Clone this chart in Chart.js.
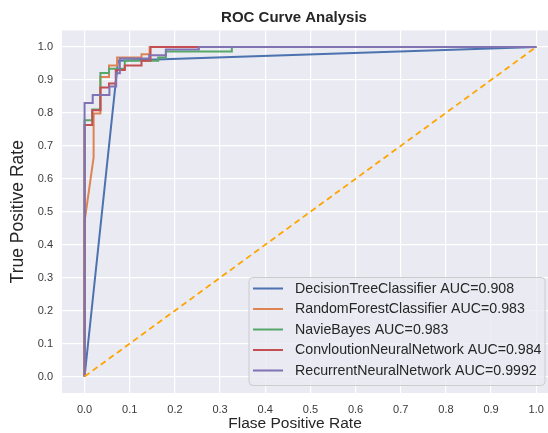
<!DOCTYPE html>
<html>
<head>
<meta charset="utf-8">
<script src="https://cdn.jsdelivr.net/npm/chart.js@4.4.1/dist/chart.umd.min.js"></script>
<style>
  html, body { margin: 0; padding: 0; background: #fff; }
</style>
</head>
<body>
<canvas id="rocChart" width="548" height="433"></canvas>
<script>
// tick values
const axisTicks = [0, 0.1, 0.2, 0.3, 0.4, 0.5, 0.6, 0.7, 0.8, 0.9, 1.0];

// ROC points (fpr / tpr)
const dtFpr = [0, 0.074, 1];
const dtTpr = [0, 0.958, 1];

const rfFpr = [0, 0, 0.02, 0.02, 0.035, 0.035, 0.054, 0.054, 0.072, 0.072, 0.126, 0.126, 0.144, 0.144, 1];
const rfTpr = [0, 0.47, 0.665, 0.798, 0.798, 0.909, 0.909, 0.944, 0.944, 0.968, 0.968, 0.978, 0.978, 1, 1];

const nbFpr = [0, 0, 0.017, 0.017, 0.035, 0.035, 0.054, 0.054, 0.089, 0.089, 0.163, 0.163, 0.18, 0.18, 0.326, 0.326, 1];
const nbTpr = [0, 0.778, 0.778, 0.81, 0.81, 0.921, 0.921, 0.934, 0.934, 0.958, 0.958, 0.968, 0.968, 0.986, 0.986, 1, 1];

const cnnFpr = [0, 0, 0.017, 0.017, 0.035, 0.035, 0.054, 0.054, 0.069, 0.069, 0.089, 0.089, 0.126, 0.126, 0.146, 0.146, 1];
const cnnTpr = [0, 0.763, 0.763, 0.808, 0.808, 0.877, 0.877, 0.889, 0.889, 0.93, 0.93, 0.944, 0.944, 0.958, 0.958, 1, 1];

const rnnFpr = [0, 0, 0.018, 0.018, 0.055, 0.055, 0.07, 0.07, 0.078, 0.078, 0.143, 0.143, 0.18, 0.18, 0.253, 0.253, 1];
const rnnTpr = [0, 0.83, 0.83, 0.854, 0.854, 0.88, 0.88, 0.92, 0.92, 0.965, 0.965, 0.975, 0.975, 0.992, 0.992, 1, 1];

const chanceFpr = [0, 1];
const chanceTpr = [0, 1];

const seriesNames = [
  'DecisionTreeClassifier AUC=0.908',
  'RandomForestClassifier AUC=0.983',
  'NavieBayes AUC=0.983',
  'ConvloutionNeuralNetwork AUC=0.984',
  'RecurrentNeuralNetwork AUC=0.9992'
];
const seriesColors = ['#4C72B0', '#DD8452', '#55A868', '#C44E52', '#8172B3'];

function pts(xs, ys) {
  return xs.map((x, i) => ({ x: x, y: ys[i] }));
}

const FONT = '"Liberation Sans", Arial, sans-serif';

// plot background like seaborn darkgrid
const bgPlugin = {
  id: 'bg',
  beforeDraw(chart) {
    const { ctx, chartArea: a } = chart;
    ctx.save();
    ctx.fillStyle = '#ffffff';
    ctx.fillRect(0, 0, chart.width, chart.height);
    ctx.fillStyle = '#EAEAF2';
    ctx.fillRect(a.left, a.top, a.right - a.left, a.bottom - a.top);
    ctx.restore();
  },
  afterLayout(chart) {
    // titles sit a bit left of the axes centre in the picture
    if (chart.titleBlock) {
      chart.titleBlock.left = 40;
      chart.titleBlock.right = 548;
    }
    const xs = chart.scales.x;
    if (!xs._titleWrapped) {
      const orig = xs.drawTitle;
      xs.drawTitle = function () {
        const l = this.left, r = this.right;
        this.left = 42; this.right = 548;
        orig.call(this);
        this.left = l; this.right = r;
      };
      xs._titleWrapped = true;
    }
  }
};

// legend box in the lower right of the axes
const legendPlugin = {
  id: 'boxLegend',
  afterDatasetsDraw(chart) {
    const ctx = chart.ctx;
    const bx = 249, by = 277.5, bw = 296, bh = 108;
    ctx.save();
    ctx.beginPath();
    ctx.roundRect(bx, by, bw, bh, 4);
    ctx.fillStyle = 'rgba(234,234,242,0.8)';
    ctx.fill();
    ctx.strokeStyle = '#cccccc';
    ctx.lineWidth = 1;
    ctx.stroke();
    ctx.font = '14.2px ' + FONT;
    ctx.textBaseline = 'middle';
    seriesNames.forEach((name, i) => {
      const y = 288.5 + i * 20.5;
      ctx.strokeStyle = seriesColors[i];
      ctx.lineWidth = 2;
      ctx.beginPath();
      ctx.moveTo(253, y);
      ctx.lineTo(283, y);
      ctx.stroke();
      ctx.fillStyle = '#262626';
      ctx.fillText(name, 295, y + 0.5);
    });
    ctx.restore();
  }
};

const curves = [
  pts(dtFpr, dtTpr),
  pts(rfFpr, rfTpr),
  pts(nbFpr, nbTpr),
  pts(cnnFpr, cnnTpr),
  pts(rnnFpr, rnnTpr)
];

const datasets = curves.map((d, i) => ({
  label: seriesNames[i],
  data: d,
  showLine: true,
  borderColor: seriesColors[i],
  backgroundColor: seriesColors[i],
  borderWidth: 2,
  pointRadius: 0,
  fill: false,
  order: 5 - i
}));
datasets.push({
  label: 'chance',
  data: pts(chanceFpr, chanceTpr),
  showLine: true,
  borderColor: '#FFA500',
  borderWidth: 1.8,
  borderDash: [6, 4],
  pointRadius: 0,
  fill: false,
  order: 0
});

const ctx1 = document.getElementById('rocChart');
const rocChart = new Chart(ctx1, {
  type: 'scatter',
  data: { datasets: datasets },
  options: {
    responsive: false,
    devicePixelRatio: 1,
    animation: false,
    layout: { padding: 0 },
    plugins: {
      legend: { display: false },
      tooltip: { enabled: false },
      title: {
        display: true,
        text: 'ROC Curve Analysis',
        color: '#262626',
        font: { family: FONT, size: 15, weight: 'bold' },
        padding: { top: 9, bottom: 3.5 }
      }
    },
    scales: {
      x: {
        type: 'linear',
        min: -0.05,
        max: 1.026,
        afterBuildTicks: (scale) => { scale.ticks = axisTicks.map(v => ({ value: v })); },
        afterFit: (scale) => {
          scale.height = 40;
          scale.paddingLeft = 0;
          scale.paddingRight = 0;
        },
        border: { display: false },
        grid: { color: '#ffffff', lineWidth: 1.2, drawTicks: false },
        ticks: {
          color: '#3a3a3a',
          padding: 10,
          font: { family: FONT, size: 11 },
          callback: (v) => Number(v).toFixed(1)
        },
        title: {
          display: true,
          text: 'Flase Positive Rate',
          color: '#262626',
          font: { family: FONT, size: 15.5 },
          padding: { top: 0, bottom: 0 }
        }
      },
      y: {
        type: 'linear',
        min: -0.05,
        max: 1.05,
        afterBuildTicks: (scale) => { scale.ticks = axisTicks.map(v => ({ value: v })); },
        afterFit: (scale) => {
          scale.width = 62;
          scale.paddingTop = 0;
          scale.paddingBottom = 0;
        },
        border: { display: false },
        grid: { color: '#ffffff', lineWidth: 1.2, drawTicks: false },
        ticks: {
          color: '#3a3a3a',
          padding: 9,
          font: { family: FONT, size: 11 },
          callback: (v) => Number(v).toFixed(1)
        },
        title: {
          display: true,
          text: 'True Positive Rate',
          color: '#262626',
          font: { family: FONT, size: 17.5 },
          padding: { top: 8, bottom: 0 }
        }
      }
    }
  },
  plugins: [bgPlugin, legendPlugin]
});
</script>
</body>
</html>
